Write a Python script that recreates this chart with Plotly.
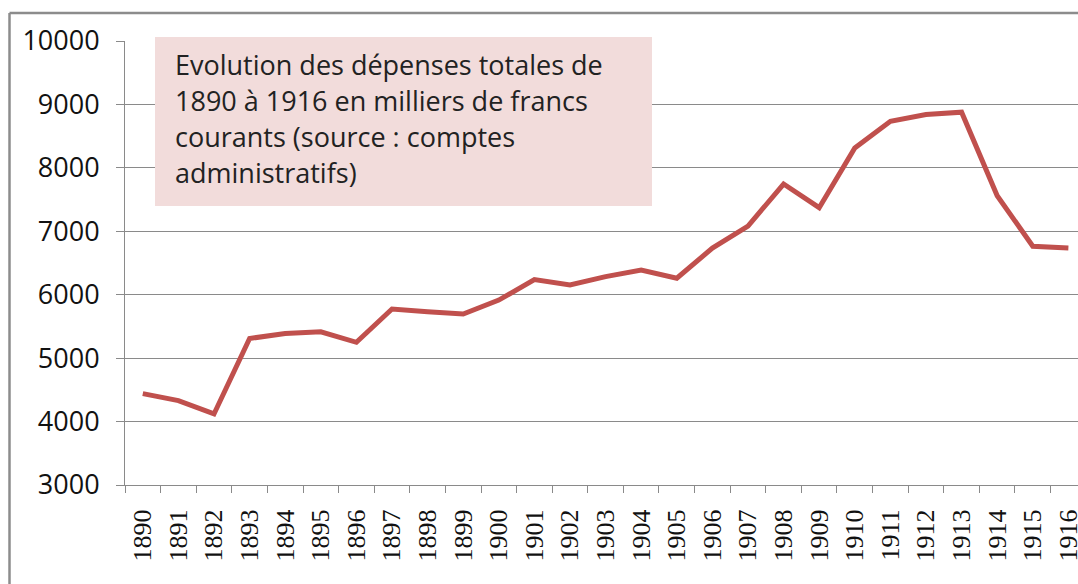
import plotly.graph_objects as go

years = [str(y) for y in range(1890, 1917)]
depenses = [4440, 4330, 4120, 5310, 5390, 5415, 5250, 5775, 5730, 5695,
            5915, 6240, 6155, 6285, 6390, 6260, 6735, 7083, 7745, 7372,
            8315, 8735, 8840, 8877, 7560, 6764, 6738]
y_ticks = [3000, 4000, 5000, 6000, 7000, 8000, 9000, 10000]
y_labels = ["3000", "4000", "5000", "6000", "7000", "8000", "9000", "10000"]
title_lines = ["Evolution des dépenses totales de",
               "1890 à 1916 en milliers de francs",
               "courants (source : comptes",
               "administratifs)"]

W, H = 1078, 584
L, T, B = 125, 41, 485
PW, PH = W - L, B - T

def px(x):
    return (x - L) / PW

def py(y):
    return (B - y) / PH

fig = go.Figure()
fig.add_trace(go.Scatter(x=years, y=depenses, mode="lines",
                         line=dict(color="#c0504d", width=5),
                         showlegend=False, hoverinfo="x+y"))

grid = "#8a8a8a"
fig.update_layout(
    width=W, height=H,
    margin=dict(l=L, r=0, t=T, b=H - B, autoexpand=False),
    paper_bgcolor="white", plot_bgcolor="white",
    xaxis=dict(type="category", range=[-0.5, 26.27], automargin=False,
               showgrid=False, showline=True, linecolor=grid, linewidth=1,
               ticks="outside", ticklen=7, tickcolor=grid, tickson="boundaries",
               tickangle=-90, tickfont=dict(family="Liberation Serif", size=26, color="#111"),
               ticklabelstandoff=13),
    yaxis=dict(range=[3000, 10000], tickvals=y_ticks, ticktext=y_labels,
               automargin=False, showgrid=True,
               gridcolor=grid, gridwidth=1, showline=True, linecolor=grid,
               linewidth=1, ticks="outside", ticklen=8, tickcolor=grid,
               tickfont=dict(family="Open Sans", size=27, color="#111"),
               ticklabelstandoff=11, zeroline=False),
)

# outer frame lines
fig.add_shape(type="line", xref="paper", yref="paper",
              x0=px(9.5), x1=1.0, y0=py(13), y1=py(13),
              line=dict(color="#8c8c8c", width=2.5))
fig.add_shape(type="line", xref="paper", yref="paper",
              x0=px(9.5), x1=px(9.5), y0=py(13), y1=py(590),
              line=dict(color="#8c8c8c", width=2.5))

# text box
fig.add_shape(type="rect", xref="paper", yref="paper",
              x0=px(155), x1=px(652), y0=py(206), y1=py(37),
              fillcolor="#f2dcdb", line=dict(width=0), layer="above")
baselines = [75, 111, 147, 183]
for line, bl in zip(title_lines, baselines):
    fig.add_annotation(xref="paper", yref="paper", x=px(173), y=py(bl + 10),
                       xanchor="left", yanchor="bottom", showarrow=False,
                       text=line, font=dict(family="Open Sans", size=27, color="#222"))

fig.write_html("out.html", config={"displayModeBar": False},
               post_script="document.body.style.margin='0';document.body.style.overflow='hidden';")
